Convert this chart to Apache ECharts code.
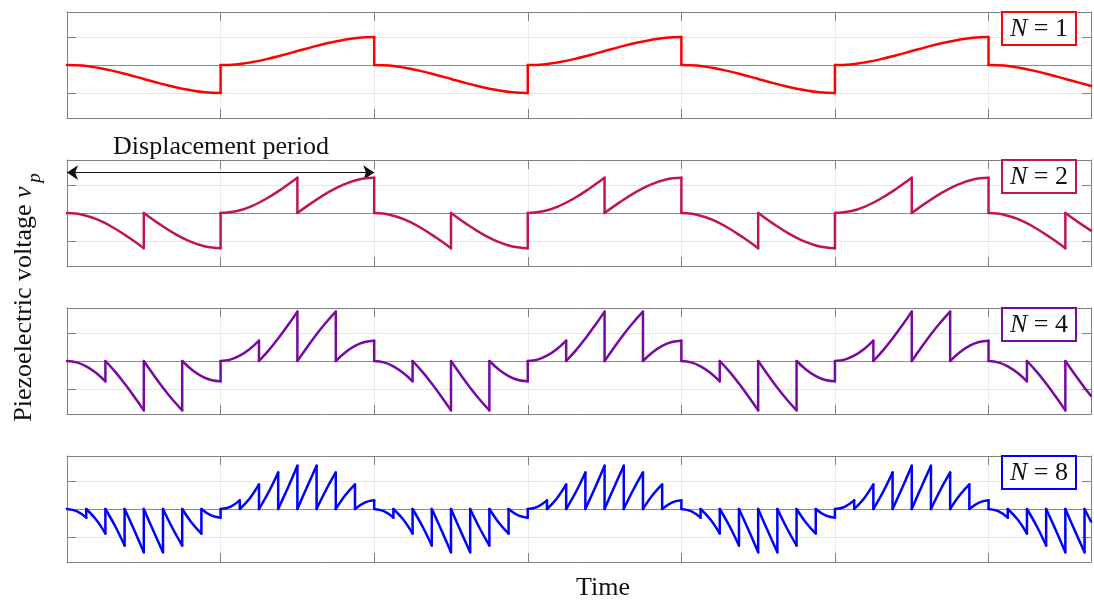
<!DOCTYPE html>
<html><head><meta charset="utf-8">
<script src="https://cdn.jsdelivr.net/npm/echarts@6/dist/echarts.min.js"></script>
<style>html,body{margin:0;padding:0;background:#fff}#c{width:1094px;height:601px}</style>
</head><body><div id="c"></div><script>
// Switching counts shown in the legend boxes
const switchCounts = ['1', '2', '4', '8'];
// Time axis: one unit = half a displacement period; grid lines every unit
const timeRange = [0, 6.667];
const voltRange = [-1.9, 1.9];
// Annotation: displacement period arrow (start/end time, level)
const periodArrow = [[0, 1.45], [2, 1.45]];

// Piezoelectric voltage, [time, voltage]
const voltageN1 = [
[0,0],[0.1,-0.02],[0.2,-0.1],[0.3,-0.21],[0.4,-0.35],[0.5,-0.5],[0.6,-0.65],[0.7,-0.79],[0.8,-0.9],[0.9,-0.98],[1,-1],
[1,0],[1.1,0.02],[1.2,0.1],[1.3,0.21],[1.4,0.35],[1.5,0.5],[1.6,0.65],[1.7,0.79],[1.8,0.9],[1.9,0.98],[2,1],
[2,0],[2.1,-0.02],[2.2,-0.1],[2.3,-0.21],[2.4,-0.35],[2.5,-0.5],[2.6,-0.65],[2.7,-0.79],[2.8,-0.9],[2.9,-0.98],[3,-1],
[3,0],[3.1,0.02],[3.2,0.1],[3.3,0.21],[3.4,0.35],[3.5,0.5],[3.6,0.65],[3.7,0.79],[3.8,0.9],[3.9,0.98],[4,1],
[4,0],[4.1,-0.02],[4.2,-0.1],[4.3,-0.21],[4.4,-0.35],[4.5,-0.5],[4.6,-0.65],[4.7,-0.79],[4.8,-0.9],[4.9,-0.98],[5,-1],
[5,0],[5.1,0.02],[5.2,0.1],[5.3,0.21],[5.4,0.35],[5.5,0.5],[5.6,0.65],[5.7,0.79],[5.8,0.9],[5.9,0.98],[6,1],
[6,0],[6.1,-0.02],[6.2,-0.1],[6.3,-0.21],[6.4,-0.35],[6.5,-0.5],[6.6,-0.65],[6.667,-0.75]
];
const voltageN2 = [
[0,0],[0.1,-0.06],[0.2,-0.24],[0.3,-0.52],[0.4,-0.87],[0.5,-1.26],[0.5,0],[0.6,-0.39],[0.7,-0.74],[0.8,-1.02],[0.9,-1.2],[1,-1.26],
[1,0],[1.1,0.06],[1.2,0.24],[1.3,0.52],[1.4,0.87],[1.5,1.26],[1.5,0],[1.6,0.39],[1.7,0.74],[1.8,1.02],[1.9,1.2],[2,1.26],
[2,0],[2.1,-0.06],[2.2,-0.24],[2.3,-0.52],[2.4,-0.87],[2.5,-1.26],[2.5,0],[2.6,-0.39],[2.7,-0.74],[2.8,-1.02],[2.9,-1.2],[3,-1.26],
[3,0],[3.1,0.06],[3.2,0.24],[3.3,0.52],[3.4,0.87],[3.5,1.26],[3.5,0],[3.6,0.39],[3.7,0.74],[3.8,1.02],[3.9,1.2],[4,1.26],
[4,0],[4.1,-0.06],[4.2,-0.24],[4.3,-0.52],[4.4,-0.87],[4.5,-1.26],[4.5,0],[4.6,-0.39],[4.7,-0.74],[4.8,-1.02],[4.9,-1.2],[5,-1.26],
[5,0],[5.1,0.06],[5.2,0.24],[5.3,0.52],[5.4,0.87],[5.5,1.26],[5.5,0],[5.6,0.39],[5.7,0.74],[5.8,1.02],[5.9,1.2],[6,1.26],
[6,0],[6.1,-0.06],[6.2,-0.24],[6.3,-0.52],[6.4,-0.87],[6.5,-1.26],[6.5,0],[6.6,-0.39],[6.667,-0.63]
];
const voltageN4 = [
[0,0],[0.063,-0.05],[0.125,-0.19],[0.188,-0.42],[0.25,-0.73],
[0.25,0],[0.313,-0.38],[0.375,-0.81],[0.438,-1.28],[0.5,-1.77],
[0.5,0],[0.563,-0.49],[0.625,-0.96],[0.688,-1.39],[0.75,-1.77],
[0.75,0],[0.813,-0.31],[0.875,-0.54],[0.938,-0.68],[1,-0.73],
[1,0],[1.063,0.05],[1.125,0.19],[1.188,0.42],[1.25,0.73],
[1.25,0],[1.313,0.38],[1.375,0.81],[1.438,1.28],[1.5,1.77],
[1.5,0],[1.563,0.49],[1.625,0.96],[1.688,1.39],[1.75,1.77],
[1.75,0],[1.813,0.31],[1.875,0.54],[1.938,0.68],[2,0.73],
[2,0],[2.063,-0.05],[2.125,-0.19],[2.188,-0.42],[2.25,-0.73],
[2.25,0],[2.313,-0.38],[2.375,-0.81],[2.438,-1.28],[2.5,-1.77],
[2.5,0],[2.563,-0.49],[2.625,-0.96],[2.688,-1.39],[2.75,-1.77],
[2.75,0],[2.813,-0.31],[2.875,-0.54],[2.938,-0.68],[3,-0.73],
[3,0],[3.063,0.05],[3.125,0.19],[3.188,0.42],[3.25,0.73],
[3.25,0],[3.313,0.38],[3.375,0.81],[3.438,1.28],[3.5,1.77],
[3.5,0],[3.563,0.49],[3.625,0.96],[3.688,1.39],[3.75,1.77],
[3.75,0],[3.813,0.31],[3.875,0.54],[3.938,0.68],[4,0.73],
[4,0],[4.063,-0.05],[4.125,-0.19],[4.188,-0.42],[4.25,-0.73],
[4.25,0],[4.313,-0.38],[4.375,-0.81],[4.438,-1.28],[4.5,-1.77],
[4.5,0],[4.563,-0.49],[4.625,-0.96],[4.688,-1.39],[4.75,-1.77],
[4.75,0],[4.813,-0.31],[4.875,-0.54],[4.938,-0.68],[5,-0.73],
[5,0],[5.063,0.05],[5.125,0.19],[5.188,0.42],[5.25,0.73],
[5.25,0],[5.313,0.38],[5.375,0.81],[5.438,1.28],[5.5,1.77],
[5.5,0],[5.563,0.49],[5.625,0.96],[5.688,1.39],[5.75,1.77],
[5.75,0],[5.813,0.31],[5.875,0.54],[5.938,0.68],[6,0.73],
[6,0],[6.063,-0.05],[6.125,-0.19],[6.188,-0.42],[6.25,-0.73],
[6.25,0],[6.313,-0.38],[6.375,-0.81],[6.438,-1.28],[6.5,-1.77],
[6.5,0],[6.563,-0.49],[6.625,-0.96],[6.667,-1.25]
];
const voltageN8 = [
[0,0],[0.063,-0.08],[0.125,-0.31],[0.125,0],[0.188,-0.37],[0.25,-0.88],[0.25,0],[0.313,-0.61],[0.375,-1.31],[0.375,0],[0.438,-0.76],[0.5,-1.55],
[0.5,0],[0.563,-0.79],[0.625,-1.55],[0.625,0],[0.688,-0.7],[0.75,-1.31],[0.75,0],[0.813,-0.5],[0.875,-0.88],[0.875,0],[0.938,-0.23],[1,-0.31],
[1,0],[1.063,0.08],[1.125,0.31],[1.125,0],[1.188,0.37],[1.25,0.88],[1.25,0],[1.313,0.61],[1.375,1.31],[1.375,0],[1.438,0.76],[1.5,1.55],
[1.5,0],[1.563,0.79],[1.625,1.55],[1.625,0],[1.688,0.7],[1.75,1.31],[1.75,0],[1.813,0.5],[1.875,0.88],[1.875,0],[1.938,0.23],[2,0.31],
[2,0],[2.063,-0.08],[2.125,-0.31],[2.125,0],[2.188,-0.37],[2.25,-0.88],[2.25,0],[2.313,-0.61],[2.375,-1.31],[2.375,0],[2.438,-0.76],[2.5,-1.55],
[2.5,0],[2.563,-0.79],[2.625,-1.55],[2.625,0],[2.688,-0.7],[2.75,-1.31],[2.75,0],[2.813,-0.5],[2.875,-0.88],[2.875,0],[2.938,-0.23],[3,-0.31],
[3,0],[3.063,0.08],[3.125,0.31],[3.125,0],[3.188,0.37],[3.25,0.88],[3.25,0],[3.313,0.61],[3.375,1.31],[3.375,0],[3.438,0.76],[3.5,1.55],
[3.5,0],[3.563,0.79],[3.625,1.55],[3.625,0],[3.688,0.7],[3.75,1.31],[3.75,0],[3.813,0.5],[3.875,0.88],[3.875,0],[3.938,0.23],[4,0.31],
[4,0],[4.063,-0.08],[4.125,-0.31],[4.125,0],[4.188,-0.37],[4.25,-0.88],[4.25,0],[4.313,-0.61],[4.375,-1.31],[4.375,0],[4.438,-0.76],[4.5,-1.55],
[4.5,0],[4.563,-0.79],[4.625,-1.55],[4.625,0],[4.688,-0.7],[4.75,-1.31],[4.75,0],[4.813,-0.5],[4.875,-0.88],[4.875,0],[4.938,-0.23],[5,-0.31],
[5,0],[5.063,0.08],[5.125,0.31],[5.125,0],[5.188,0.37],[5.25,0.88],[5.25,0],[5.313,0.61],[5.375,1.31],[5.375,0],[5.438,0.76],[5.5,1.55],
[5.5,0],[5.563,0.79],[5.625,1.55],[5.625,0],[5.688,0.7],[5.75,1.31],[5.75,0],[5.813,0.5],[5.875,0.88],[5.875,0],[5.938,0.23],[6,0.31],
[6,0],[6.063,-0.08],[6.125,-0.31],[6.125,0],[6.188,-0.37],[6.25,-0.88],[6.25,0],[6.313,-0.61],[6.375,-1.31],[6.375,0],[6.438,-0.76],[6.5,-1.55],
[6.5,0],[6.563,-0.79],[6.625,-1.55],[6.625,0],[6.667,-0.45]
];
const allVoltages = [voltageN1, voltageN2, voltageN4, voltageN8];

// ---- styling / layout ----
const panelTops = [12, 160, 308, 456];
const lineColors = ['#ff0000', '#c0145a', '#780aa0', '#0000ff'];
const AX = '#808080';
const SERIF = '"Liberation Serif", "Times New Roman", serif';

// Split a waveform into smooth pieces (broken at switching instants) and the vertical switching jumps
function splitAtJumps(points) {
  const curve = [], jumps = [];
  points.forEach((p, k) => {
    if (k > 0 && p[0] === points[k - 1][0]) {
      curve.push([p[0], '-']);
      jumps.push(points[k - 1], p, [p[0], '-']);
    }
    curve.push(p);
  });
  return { curve, jumps };
}

const grids = [], xAxes = [], yAxes = [], series = [], titles = [];
panelTops.forEach((top, i) => {
  grids.push({ left: 67, right: 3, top: top, height: 106 });
  const common = {
    gridIndex: i, type: 'value',
    axisLabel: { show: false },
    axisTick: { inside: true, length: 9, lineStyle: { color: AX } },
    axisLine: { onZero: false, lineStyle: { color: AX, width: 1 } }
  };
  xAxes.push(Object.assign({}, common, {
    min: timeRange[0], max: timeRange[1], interval: 1, position: 'bottom',
    splitLine: { show: true, lineStyle: { color: '#ebebeb', width: 1 } }
  }));
  xAxes.push(Object.assign({}, common, {
    min: timeRange[0], max: timeRange[1], interval: 1, position: 'top',
    splitLine: { show: false }
  }));
  yAxes.push(Object.assign({}, common, {
    min: voltRange[0], max: voltRange[1], splitNumber: 4, position: 'left',
    splitLine: { show: true, lineStyle: { color: '#e6e6e6', width: 1 } }
  }));
  yAxes.push(Object.assign({}, common, {
    min: voltRange[0], max: voltRange[1], splitNumber: 4, position: 'right',
    splitLine: { show: false }
  }));
  const mlData = [{ yAxis: 0, lineStyle: { color: '#8c8c8c', width: 1, type: 'solid' } }];
  if (i === 1) {
    mlData.push([
      { coord: periodArrow[0], symbol: 'arrow', symbolSize: 11 },
      { coord: periodArrow[1], symbol: 'arrow', symbolSize: 11, lineStyle: { color: '#111', width: 1, type: 'solid' } }
    ]);
  }
  const parts = splitAtJumps(allVoltages[i]);
  const lineStyle = { color: lineColors[i], width: 2.5, cap: 'round', join: 'round' };
  series.push({
    type: 'line', xAxisIndex: 2 * i, yAxisIndex: 2 * i,
    data: parts.curve, showSymbol: false, symbol: 'none', smooth: 0.4, connectNulls: false,
    lineStyle: lineStyle, itemStyle: { color: lineColors[i] },
    z: 3, animation: false,
    markLine: {
      silent: true, z: 1, symbol: 'none', animation: false,
      label: { show: false },
      lineStyle: { color: '#111', width: 1, type: 'solid' },
      emphasis: { disabled: true },
      data: mlData
    }
  });
  series.push({
    type: 'line', xAxisIndex: 2 * i, yAxisIndex: 2 * i,
    data: parts.jumps, showSymbol: false, symbol: 'none', connectNulls: false,
    lineStyle: lineStyle, itemStyle: { color: lineColors[i] },
    z: 3, animation: false
  });
  titles.push({
    text: '{i|N} = ' + switchCounts[i],
    right: 18, top: top,
    padding: [4, 8, 2, 8],
    borderColor: lineColors[i], borderWidth: 2,
    backgroundColor: '#fff',
    textStyle: {
      fontFamily: SERIF, fontSize: 26, fontWeight: 'normal', color: '#111', lineHeight: 27,
      rich: { i: { fontFamily: SERIF, fontSize: 26, fontStyle: 'italic', color: '#111', lineHeight: 27 } }
    }
  });
});

const chart = echarts.init(document.getElementById('c'), null, { renderer: 'canvas' });
chart.setOption({
  animation: false,
  backgroundColor: '#fff',
  title: titles,
  grid: grids, xAxis: xAxes, yAxis: yAxes, series: series,
  graphic: [
    { type: 'text', x: 24, y: 304, rotation: Math.PI / 2, silent: true,
      style: { text: '{a|Piezoelectric voltage }{b|v}', align: 'center', verticalAlign: 'middle',
        rich: { a: { fontFamily: SERIF, fontSize: 26, fill: '#111' },
                b: { fontFamily: SERIF, fontSize: 26, fontStyle: 'italic', fill: '#111' } } } },
    { type: 'text', x: 35, y: 178, rotation: Math.PI / 2, silent: true,
      style: { text: 'p', fontFamily: SERIF, fontSize: 19, fontStyle: 'italic', fill: '#111', align: 'center', verticalAlign: 'middle' } },
    { type: 'text', x: 221, y: 147, silent: true,
      style: { text: 'Displacement period', fontFamily: SERIF, fontSize: 26, fill: '#111', align: 'center', verticalAlign: 'middle' } },
    { type: 'text', x: 603, y: 588, silent: true,
      style: { text: 'Time', fontFamily: SERIF, fontSize: 26, fill: '#111', align: 'center', verticalAlign: 'middle' } }
  ]
});
</script></body></html>
